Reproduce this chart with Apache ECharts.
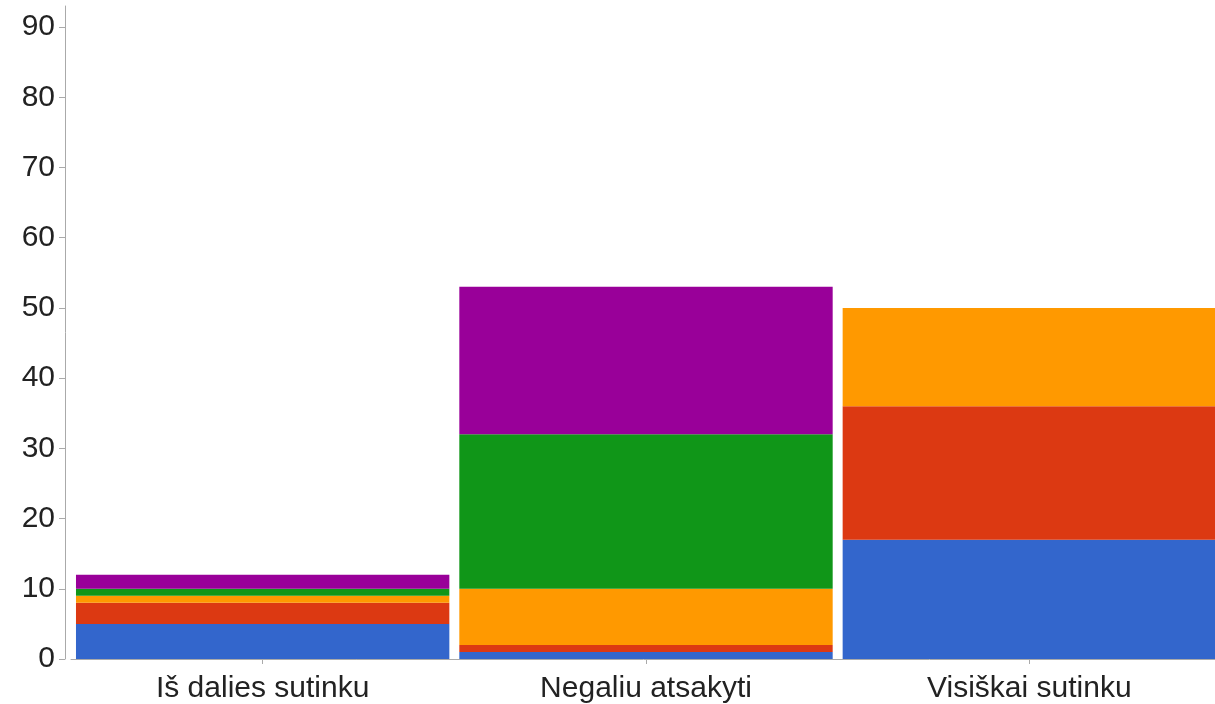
<!DOCTYPE html>
<html>
<head>
<meta charset="utf-8">
<script src="https://cdn.jsdelivr.net/npm/echarts@6/dist/echarts.min.js"></script>
<style>
html,body{margin:0;padding:0;background:#fff;}
#chart{width:1215px;height:704px;}
</style>
</head>
<body>
<div id="chart"></div>
<script>
var categories = ['Iš dalies sutinku', 'Negaliu atsakyti', 'Visiškai sutinku'];
var seriesBlue   = [5, 1, 17];
var seriesRed    = [3, 1, 19];
var seriesOrange = [1, 8, 14];
var seriesGreen  = [1, 22, 0];
var seriesPurple = [2, 21, 0];
var yTicks = [0, 10, 20, 30, 40, 50, 60, 70, 80, 90];
var colors = ['#3366cc', '#dc3912', '#ff9900', '#109618', '#990099'];

var chart = echarts.init(document.getElementById('chart'));
function mk(name, data, color) {
  return {
    name: name, type: 'bar', stack: 'total', data: data,
    barCategoryGap: '2.6%',
    itemStyle: { color: color },
    emphasis: { disabled: true }
  };
}
chart.setOption({
  animation: false,
  grid: { left: 71, width: 1150, top: 6, bottom: 45, containLabel: false, outerBoundsMode: 'none' },
  xAxis: {
    type: 'category',
    data: categories,
    axisLine: { show: true, lineStyle: { color: '#aaaaaa', width: 1 } },
    axisTick: { show: true, alignWithLabel: true, length: 5, lineStyle: { color: '#aaaaaa' } },
    axisLabel: { color: '#222222', fontSize: 30, fontFamily: 'Liberation Sans, Arial, sans-serif', margin: 15 }
  },
  yAxis: {
    type: 'value',
    min: 0, max: 93, interval: 10,
    offset: 6,
    splitLine: { show: false },
    axisLine: { show: true, lineStyle: { color: '#aaaaaa', width: 1 } },
    axisTick: { show: true, length: 6, customValues: yTicks, lineStyle: { color: '#aaaaaa' } },
    axisLabel: { color: '#222222', fontSize: 30, fontFamily: 'Liberation Sans, Arial, sans-serif', margin: 10, customValues: yTicks }
  },
  series: [
    mk('A', seriesBlue, colors[0]),
    mk('B', seriesRed, colors[1]),
    mk('C', seriesOrange, colors[2]),
    mk('D', seriesGreen, colors[3]),
    mk('E', seriesPurple, colors[4])
  ]
});
</script>
</body>
</html>
